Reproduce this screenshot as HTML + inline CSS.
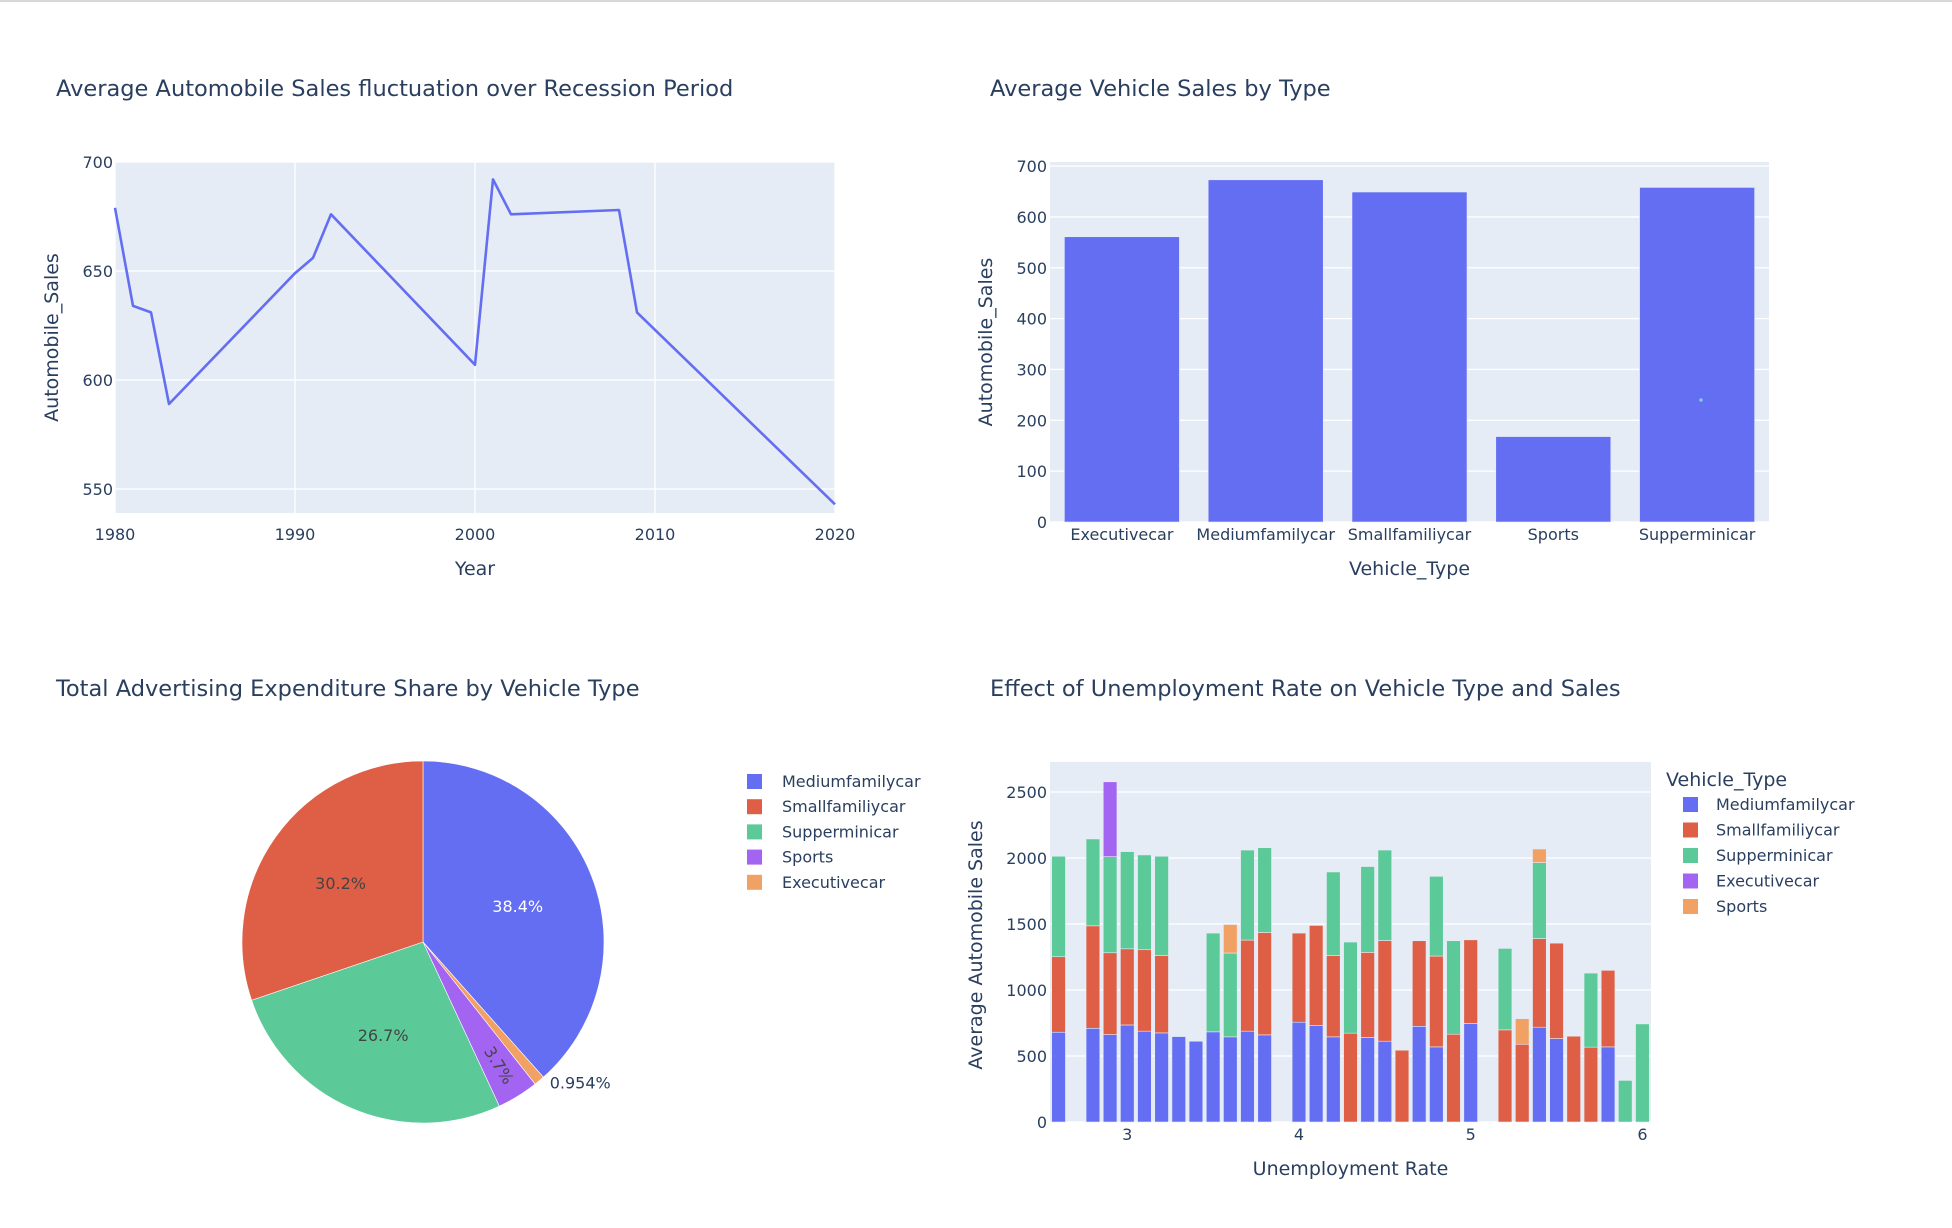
<!DOCTYPE html>
<html><head><meta charset="utf-8">
<style>
html,body{margin:0;padding:0;background:#fff;}
svg{display:block;font-family:"DejaVu Sans","Liberation Sans",sans-serif;}
</style></head>
<body>
<svg id="root" width="1952" height="1228" viewBox="0 0 1952 1228" xmlns="http://www.w3.org/2000/svg">
<rect x="0" y="0" width="1952" height="2" fill="#d8d8d8"/>
<g id="c1"></g>
<g id="c2"></g>
<g id="c3"></g>
<g id="c4"></g>
</svg>
<script>
// ---- Chart 1 data ----
const years = [1980,1981,1982,1983,1990,1991,1992,2000,2001,2002,2008,2009,2020];
const yearSales = [679,634,631,589,649,656,676,607,692,676,678,631,543];
const c1XTicks = [1980,1990,2000,2010,2020];
const c1YTicks = [550,600,650,700];
// ---- Chart 2 data ----
const vehTypes = ["Executivecar","Mediumfamilycar","Smallfamiliycar","Sports","Supperminicar"];
const vehSales = [561,673,649,168,658];
const c2YTicks = [0,100,200,300,400,500,600,700];
// ---- Chart 3 data ----
const pieLabels = ["Mediumfamilycar","Executivecar","Sports","Supperminicar","Smallfamiliycar"];
const pieValues = [38.4,0.954,3.7,26.7,30.2];
const pieText = ["38.4%","0.954%","3.7%","26.7%","30.2%"];
const pieLegend = ["Mediumfamilycar","Smallfamiliycar","Supperminicar","Sports","Executivecar"];
// ---- Chart 4 data ----
const rates = [2.6,2.8,2.9,3.0,3.1,3.2,3.3,3.4,3.5,3.6,3.7,3.8,4.0,4.1,4.2,4.3,4.4,4.5,4.6,4.7,4.8,4.9,5.0,5.2,5.3,5.4,5.5,5.6,5.7,5.8,5.9,6.0];
const medium = [680,710,662,735,688,675,647,612,683,645,688,660,756,730,645,0,640,612,0,725,569,0,746,0,0,718,632,0,0,569,0,0];
const small  = [572,776,620,577,617,587,0,0,0,0,690,776,675,759,617,673,645,763,544,648,688,665,634,698,589,672,723,650,567,580,0,0];
const supermini = [761,658,728,736,718,751,0,0,748,635,682,642,0,0,632,690,650,685,0,0,604,708,0,617,0,575,0,0,561,0,315,743];
const executive = [0,0,567,0,0,0,0,0,0,0,0,0,0,0,0,0,0,0,0,0,0,0,0,0,0,0,0,0,0,0,0,0];
const sports = [0,0,0,0,0,0,0,0,0,216,0,0,0,0,0,0,0,0,0,0,0,0,0,0,194,103,0,0,0,0,0,0];
const c4XTicks = [3,4,5,6];
const c4YTicks = [0,500,1000,1500,2000,2500];

const NS="http://www.w3.org/2000/svg";
const COL={blue:"#646ef2",red:"#de5f45",green:"#5bc998",purple:"#a464f2",orange:"#f1a163"};
function mk(p,tag,attrs,txt){const e=document.createElementNS(NS,tag);for(const k in attrs)e.setAttribute(k,attrs[k]);if(txt!==undefined)e.textContent=txt;p.appendChild(e);return e;}
const TXT="#2a3f5f";

// ===== Chart 1 =====
(function(){
const g=document.getElementById('c1');
const L=115,R=835,T=162,B=513,y0=539,y1=700,x0=1980,x1=2020;
const sx=v=>L+(v-x0)/(x1-x0)*(R-L), sy=v=>B-(v-y0)/(y1-y0)*(B-T);
let t=mk(g,'text',{x:56,y:96,'font-size':22.5,fill:TXT},'Average Automobile Sales fluctuation over Recession Period');


let bg=mk(g,'rect',{x:L,y:T,width:R-L,height:B-T,fill:'#e5ecf6'});


c1XTicks.forEach(v=>{mk(g,'line',{x1:sx(v),x2:sx(v),y1:T,y2:B,stroke:'#fff','stroke-width':1.3});
 const e=mk(g,'text',{x:sx(v),y:540,'font-size':16,fill:TXT,'text-anchor':'middle'},String(v));
 
 });
c1YTicks.forEach(v=>{mk(g,'line',{x1:L,x2:R,y1:sy(v),y2:sy(v),stroke:'#fff','stroke-width':1.3});
 const e=mk(g,'text',{x:113,y:sy(v)+6,'font-size':16,fill:TXT,'text-anchor':'end'},String(v));
 
 });
const pts=years.map((y,i)=>sx(y).toFixed(1)+','+sy(yearSales[i]).toFixed(1)).join(' ');
const pl=mk(g,'polyline',{points:pts,fill:'none',stroke:COL.blue,'stroke-width':2.6,'stroke-linejoin':'round'});


t=mk(g,'text',{x:(L+R)/2,y:575,'font-size':19,fill:TXT,'text-anchor':'middle'},'Year');


t=mk(g,'text',{x:0,y:0,'font-size':19,fill:TXT,'text-anchor':'middle',transform:`translate(58,${(T+B)/2}) rotate(-90)`},'Automobile_Sales');


})();

// ===== Chart 2 =====
(function(){
const g=document.getElementById('c2');
const L=1050,R=1769,T=162,B=522,y1=708;
const sy=v=>B-v/y1*(B-T); const bw=(R-L)/vehTypes.length;
let t=mk(g,'text',{x:990,y:96,'font-size':22.5,fill:TXT},'Average Vehicle Sales by Type');


let bg=mk(g,'rect',{x:L,y:T,width:R-L,height:B-T,fill:'#e5ecf6'});


c2YTicks.forEach(v=>{mk(g,'line',{x1:L,x2:R,y1:sy(v),y2:sy(v),stroke:'#fff','stroke-width':1.3});
 const e=mk(g,'text',{x:1047,y:sy(v)+6,'font-size':16,fill:TXT,'text-anchor':'end'},String(v));
 
 });
vehTypes.forEach((c,i)=>{const cx=L+bw*(i+0.5);
 const r=mk(g,'rect',{x:cx-bw*0.4,y:sy(vehSales[i]),width:bw*0.8,height:B-sy(vehSales[i]),fill:COL.blue,stroke:'#e5ecf6','stroke-width':0.6});
 
 
 const e=mk(g,'text',{x:cx,y:540,'font-size':16,fill:TXT,'text-anchor':'middle'},c);
 
 });
mk(g,'circle',{cx:1701,cy:400,r:1.8,fill:'#7ecbf0'});
t=mk(g,'text',{x:(L+R)/2,y:575,'font-size':19,fill:TXT,'text-anchor':'middle'},'Vehicle_Type');


t=mk(g,'text',{x:0,y:0,'font-size':19,fill:TXT,'text-anchor':'middle',transform:`translate(992,${(T+B)/2}) rotate(-90)`},'Automobile_Sales');


})();

// ===== Chart 3 =====
(function(){
const g=document.getElementById('c3');
const cx=423,cy=942,r=181;
const colMap={Mediumfamilycar:COL.blue,Smallfamiliycar:COL.red,Supperminicar:COL.green,Sports:COL.purple,Executivecar:COL.orange};
let t=mk(g,'text',{x:56,y:696,'font-size':22.5,fill:TXT},'Total Advertising Expenditure Share by Vehicle Type');


const tot=pieValues.reduce((a,b)=>a+b,0);
let a=0;
pieValues.forEach((v,i)=>{
 const a0=a, a1=a+v/tot*2*Math.PI; a=a1;
 const p=(an,rr)=>[cx+rr*Math.sin(an),cy-rr*Math.cos(an)];
 const [x0,y0]=p(a0,r),[x1,y1]=p(a1,r);
 const s=mk(g,'path',{d:`M${cx},${cy} L${x0},${y0} A${r},${r} 0 ${a1-a0>Math.PI?1:0} 1 ${x1},${y1} Z`,fill:colMap[pieLabels[i]],stroke:'#fff','stroke-width':0.6});
 
 
 const mid=(a0+a1)/2;
 let lbl;
 if(v<2){const [tx,ty]=p(mid,r+10);
  lbl=mk(g,'text',{x:tx+4,y:ty,'font-size':16,fill:TXT},pieText[i]);}
 else if(v<5){const [tx,ty]=p(mid,r*0.8);const deg=mid*180/Math.PI-90;
  lbl=mk(g,'text',{x:0,y:0,'font-size':16,fill:'#444','text-anchor':'middle','dominant-baseline':'central',transform:`translate(${tx},${ty}) rotate(${deg})`},pieText[i]);}
 else {const [tx,ty]=p(mid,r*0.56);
  lbl=mk(g,'text',{x:tx,y:ty+6,'font-size':16,fill:i===0?'#fff':'#444','text-anchor':'middle'},pieText[i]);}
 
 
});
pieLegend.forEach((n,i)=>{const y=782+i*25.2;
 const sq=mk(g,'rect',{x:747,y:y-8,width:15,height:15,fill:colMap[n]});
 
 
 const e=mk(g,'text',{x:782,y:y+5,'font-size':16,fill:TXT},n);
 
 });
})();

// ===== Chart 4 =====
(function(){
const g=document.getElementById('c4');
const L=1050,R=1651,T=762,B=1122,x0=2.55,x1=6.05,y1=2727;
const sx=v=>L+(v-x0)/(x1-x0)*(R-L), sy=v=>B-v/y1*(B-T);
let t=mk(g,'text',{x:990,y:696,'font-size':22.5,fill:TXT},'Effect of Unemployment Rate on Vehicle Type and Sales');


let bg=mk(g,'rect',{x:L,y:T,width:R-L,height:B-T,fill:'#e5ecf6'});


c4YTicks.forEach(v=>{mk(g,'line',{x1:L,x2:R,y1:sy(v),y2:sy(v),stroke:'#fff','stroke-width':1.3});
 const e=mk(g,'text',{x:1047,y:sy(v)+6,'font-size':16,fill:TXT,'text-anchor':'end'},String(v));
 
 });
c4XTicks.forEach(v=>{const e=mk(g,'text',{x:sx(v),y:1140,'font-size':16,fill:TXT,'text-anchor':'middle'},String(v));
 
 });
const series=[[medium,COL.blue,'mediumfamilycar'],[small,COL.red,'smallfamiliycar'],[supermini,COL.green,'supperminicar'],[executive,COL.purple,'executivecar'],[sports,COL.orange,'sports']];
const w=(sx(0.1)-sx(0))*0.8;
rates.forEach((x,i)=>{let base=0;
 series.forEach(([arr,c,n])=>{const v=arr[i]; if(!v)return;
  const r=mk(g,'rect',{x:sx(x)-w/2,y:sy(base+v),width:w,height:sy(base)-sy(base+v),fill:c,stroke:'#e5ecf6','stroke-width':0.6});
  
  
  base+=v;});});
t=mk(g,'text',{x:(L+R)/2,y:1175,'font-size':19,fill:TXT,'text-anchor':'middle'},'Unemployment Rate');


t=mk(g,'text',{x:0,y:0,'font-size':19,fill:TXT,'text-anchor':'middle',transform:`translate(982,${(T+B)/2+3}) rotate(-90)`},'Average Automobile Sales');


t=mk(g,'text',{x:1666,y:786,'font-size':19,fill:TXT},'Vehicle_Type');


const legs=[['Mediumfamilycar',COL.blue],['Smallfamiliycar',COL.red],['Supperminicar',COL.green],['Executivecar',COL.purple],['Sports',COL.orange]];
legs.forEach(([n,c],i)=>{const y=805+i*25.5;
 const sq=mk(g,'rect',{x:1683,y:y-8,width:15,height:15,fill:c});
 
 
 const e=mk(g,'text',{x:1716,y:y+5,'font-size':16,fill:TXT},n);
 
 });
})();
</script>
</body></html>
